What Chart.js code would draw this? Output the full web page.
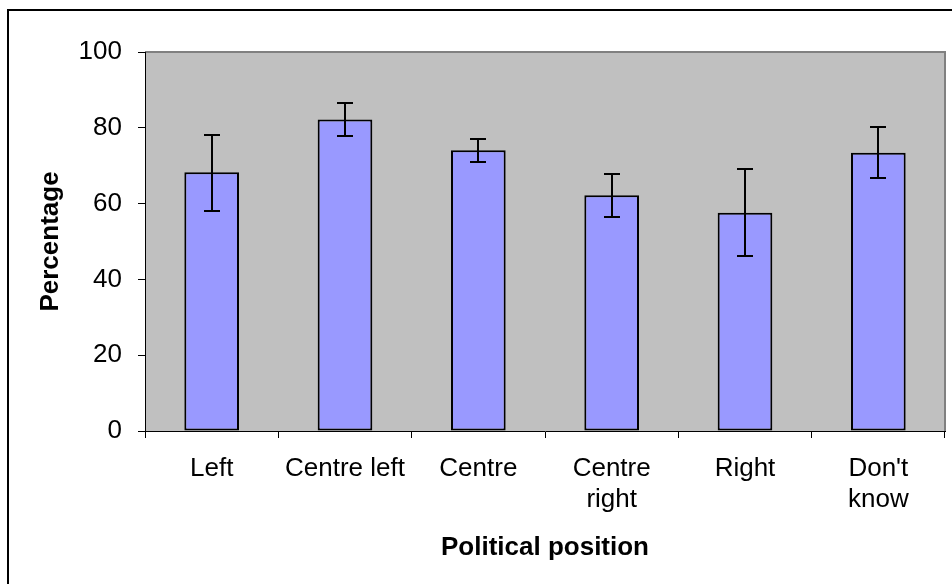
<!DOCTYPE html>
<html>
<head>
<meta charset="utf-8">
<script src="https://cdn.jsdelivr.net/npm/chart.js@4"></script>
<style>
  body { margin: 0; background: #fff; }
</style>
</head>
<body>
<canvas id="myChart" width="952" height="584"></canvas>
<script>
const labels = ['Left', 'Centre left', 'Centre', ['Centre', 'right'], 'Right', ["Don't", 'know']];
const values = [68.3, 82.2, 74.1, 62.2, 57.6, 73.4];
const errLow = [58.1, 77.8, 71.1, 56.4, 46.1, 66.8];
const errHigh = [78.2, 86.6, 77.1, 67.9, 69.1, 80.1];
const yTicks = [0, 20, 40, 60, 80, 100];

const FONT = "'Liberation Sans', Arial, sans-serif";

// grey plot area + outer frame
const background = {
    id: 'background',
    beforeDraw(chart) {
        const c = chart.ctx;
        const a = chart.chartArea;
        c.save();
        c.fillStyle = '#C0C0C0';
        c.fillRect(a.left, a.top, a.right - a.left, a.bottom - a.top);
        c.strokeStyle = '#808080';
        c.lineWidth = 2;
        c.beginPath();
        c.moveTo(a.left, a.top);
        c.lineTo(a.right, a.top);
        c.lineTo(a.right, a.bottom);
        c.stroke();
        c.strokeStyle = '#000';
        c.lineWidth = 2;
        c.beginPath();
        c.moveTo(8, 600);
        c.lineTo(8, 10);
        c.lineTo(960, 10);
        c.stroke();
        c.restore();
    }
};

const errorBars = {
    id: 'errorBars',
    afterDatasetsDraw(chart) {
        const c = chart.ctx;
        const y = chart.scales.y;
        const meta = chart.getDatasetMeta(0);
        c.save();
        c.strokeStyle = '#000';
        c.lineWidth = 2;
        meta.data.forEach((bar, i) => {
            const x = Math.round(bar.x);
            const top = Math.round(y.getPixelForValue(errHigh[i]));
            const bot = Math.round(y.getPixelForValue(errLow[i]));
            c.beginPath();
            c.moveTo(x, top);
            c.lineTo(x, bot);
            c.moveTo(x - 8, top);
            c.lineTo(x + 8, top);
            c.moveTo(x - 8, bot);
            c.lineTo(x + 8, bot);
            c.stroke();
        });
        c.restore();
    }
};

const ctx = document.getElementById('myChart').getContext('2d');
const myChart = new Chart(ctx, {
    type: 'bar',
    data: {
        labels: labels,
        datasets: [{
            data: values,
            backgroundColor: '#9999FF',
            borderColor: '#000',
            borderWidth: 2,
            borderSkipped: false,
            barPercentage: 0.41,
            categoryPercentage: 1
        }]
    },
    options: {
        responsive: false,
        animation: false,
        layout: { padding: { top: 52, right: 7, left: 0, bottom: 0 } },
        plugins: {
            legend: { display: false },
            tooltip: { enabled: false }
        },
        scales: {
            x: {
                grid: { offset: true, drawOnChartArea: false, tickLength: 7, color: '#000' },
                border: { color: '#000', width: 1 },
                ticks: { color: '#000', padding: 15, maxRotation: 0, autoSkip: false, font: { family: FONT, size: 26 } },
                title: { display: true, text: 'Political position', color: '#000', padding: { bottom: 21 }, font: { family: FONT, size: 26, weight: 'bold' } },
                afterFit(scale) { scale.height = 153; }
            },
            y: {
                min: 0,
                max: 100,
                afterBuildTicks(scale) { scale.ticks = yTicks.map(v => ({ value: v })); },
                grid: { drawOnChartArea: false, tickLength: 7, color: '#000' },
                border: { color: '#000', width: 1 },
                ticks: { color: '#000', padding: 16, font: { family: FONT, size: 26 } },
                title: { display: true, text: 'Percentage', color: '#000', padding: { top: 35 }, font: { family: FONT, size: 26, weight: 'bold' } },
                afterFit(scale) { scale.width = 145; }
            }
        }
    },
    plugins: [background, errorBars]
});
</script>
</body>
</html>
